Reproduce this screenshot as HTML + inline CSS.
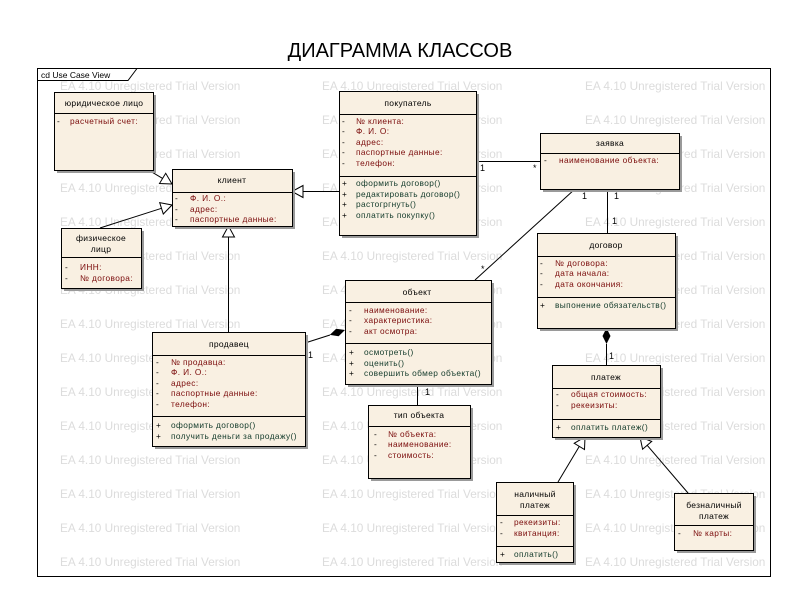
<!DOCTYPE html>
<html><head><meta charset="utf-8"><style>
html,body{margin:0;padding:0;background:#fff;}
svg{display:block;font-family:"Liberation Sans","DejaVu Sans",sans-serif;}
.wm{fill:#dcdcdc;font-size:11.8px;}
.b{fill:#f9f0e2;stroke:#000;stroke-width:1;}
.s{fill:#9a9a9a;}
.h{font-size:8.5px;fill:#000;text-anchor:middle;letter-spacing:0.3px;}
.a{font-size:8.3px;fill:#7a0a0a;letter-spacing:0.4px;}
.m{font-size:8.3px;fill:#123a2a;letter-spacing:0.4px;}
.k{font-size:8.3px;fill:#000;}
.l{stroke:#000;stroke-width:1;fill:none;}
.t{fill:#fff;stroke:#000;stroke-width:1;}
.n{font-size:9px;fill:#000;}
</style></head><body>
<svg width="800" height="600" viewBox="0 0 800 600">
<text x="400" y="57" text-anchor="middle" font-size="20" fill="#000">ДИАГРАММА КЛАССОВ</text>
<rect x="37.5" y="68.5" width="733" height="508" fill="#fff" stroke="#000"/>
<g class="wm">
<text x="60" y="90">EA 4.10 Unregistered Trial Version</text><text x="322" y="90">EA 4.10 Unregistered Trial Version</text><text x="585" y="90">EA 4.10 Unregistered Trial Version</text>
<text x="60" y="124">EA 4.10 Unregistered Trial Version</text><text x="322" y="124">EA 4.10 Unregistered Trial Version</text><text x="585" y="124">EA 4.10 Unregistered Trial Version</text>
<text x="60" y="158">EA 4.10 Unregistered Trial Version</text><text x="322" y="158">EA 4.10 Unregistered Trial Version</text><text x="585" y="158">EA 4.10 Unregistered Trial Version</text>
<text x="60" y="192">EA 4.10 Unregistered Trial Version</text><text x="322" y="192">EA 4.10 Unregistered Trial Version</text><text x="585" y="192">EA 4.10 Unregistered Trial Version</text>
<text x="60" y="226">EA 4.10 Unregistered Trial Version</text><text x="322" y="226">EA 4.10 Unregistered Trial Version</text><text x="585" y="226">EA 4.10 Unregistered Trial Version</text>
<text x="60" y="260">EA 4.10 Unregistered Trial Version</text><text x="322" y="260">EA 4.10 Unregistered Trial Version</text><text x="585" y="260">EA 4.10 Unregistered Trial Version</text>
<text x="60" y="294">EA 4.10 Unregistered Trial Version</text><text x="322" y="294">EA 4.10 Unregistered Trial Version</text><text x="585" y="294">EA 4.10 Unregistered Trial Version</text>
<text x="60" y="328">EA 4.10 Unregistered Trial Version</text><text x="322" y="328">EA 4.10 Unregistered Trial Version</text><text x="585" y="328">EA 4.10 Unregistered Trial Version</text>
<text x="60" y="362">EA 4.10 Unregistered Trial Version</text><text x="322" y="362">EA 4.10 Unregistered Trial Version</text><text x="585" y="362">EA 4.10 Unregistered Trial Version</text>
<text x="60" y="396">EA 4.10 Unregistered Trial Version</text><text x="322" y="396">EA 4.10 Unregistered Trial Version</text><text x="585" y="396">EA 4.10 Unregistered Trial Version</text>
<text x="60" y="430">EA 4.10 Unregistered Trial Version</text><text x="322" y="430">EA 4.10 Unregistered Trial Version</text><text x="585" y="430">EA 4.10 Unregistered Trial Version</text>
<text x="60" y="464">EA 4.10 Unregistered Trial Version</text><text x="322" y="464">EA 4.10 Unregistered Trial Version</text><text x="585" y="464">EA 4.10 Unregistered Trial Version</text>
<text x="60" y="498">EA 4.10 Unregistered Trial Version</text><text x="322" y="498">EA 4.10 Unregistered Trial Version</text><text x="585" y="498">EA 4.10 Unregistered Trial Version</text>
<text x="60" y="532">EA 4.10 Unregistered Trial Version</text><text x="322" y="532">EA 4.10 Unregistered Trial Version</text><text x="585" y="532">EA 4.10 Unregistered Trial Version</text>
<text x="60" y="566">EA 4.10 Unregistered Trial Version</text><text x="322" y="566">EA 4.10 Unregistered Trial Version</text><text x="585" y="566">EA 4.10 Unregistered Trial Version</text>
</g>
<path d="M37.5 80.5 H128 L137 68.5" class="l"/>
<text x="41" y="78" font-size="8.5" fill="#000">cd Use Case View</text>

<g class="l">
<line x1="115" y1="150" x2="162.6" y2="178.4"/>
<line x1="100" y1="228" x2="161.5" y2="208.3"/>
<line x1="339" y1="191.5" x2="303" y2="191.5"/>
<line x1="228.5" y1="332" x2="228.5" y2="237"/>
<line x1="476" y1="161.5" x2="540" y2="161.5"/>
<line x1="575" y1="189" x2="475" y2="280"/>
<line x1="607.5" y1="189" x2="607.5" y2="233"/>
<line x1="305" y1="343" x2="330" y2="335"/>
<line x1="417.5" y1="384" x2="417.5" y2="405"/>
<line x1="606.5" y1="344" x2="606.5" y2="365"/>
<line x1="558" y1="482" x2="579.3" y2="446.4"/>
<line x1="688" y1="493" x2="647.2" y2="445.3"/>
</g>
<polygon class="t" points="172,184 159.5,183.5 165.7,173.3"/>
<polygon class="t" points="172,205 163.3,214 159.7,202.6"/>
<polygon class="t" points="292,191.5 303,185.5 303,197.5"/>
<polygon class="t" points="228.5,226 222.5,237 234.5,237"/>
<polygon class="t" points="585,437 584.5,449.5 574.2,443.3"/>
<polygon class="t" points="640,437 651.7,441.4 642.6,449.2"/>
<polygon fill="#000" points="345,330 338.6,336.3 329.8,334.9 336.2,328.7"/>
<polygon fill="#000" points="606.5,328 610.5,336 606.5,344 602.5,336"/>
<g class="n">
<text x="480" y="171">1</text><text x="533" y="171">*</text>
<text x="481" y="272">*</text><text x="582" y="199">1</text>
<text x="614" y="199">1</text><text x="612" y="224">1</text>
<text x="308" y="358">1</text><text x="425" y="395">1</text>
<text x="609" y="359">1</text>
</g>

<rect class="s" x="57" y="95" width="99" height="78"/>
<rect class="b" x="54.5" y="92.5" width="99" height="78"/>
<line class="l" x1="54.5" y1="113.5" x2="153.5" y2="113.5"/>
<text class="h" x="104" y="106">юридическое лицо</text>
<text class="k" x="57" y="124">-</text><text class="a" x="70" y="124">расчетный счет:</text>

<rect class="s" x="175" y="172" width="120" height="57"/>
<rect class="b" x="172.5" y="169.5" width="120" height="57"/>
<line class="l" x1="172.5" y1="192.5" x2="292.5" y2="192.5"/>
<text class="h" x="232" y="183">клиент</text>
<text class="k" x="175" y="201">-</text><text class="a" x="190" y="201">Ф. И. О.:</text>
<text class="k" x="175" y="212">-</text><text class="a" x="190" y="212">адрес:</text>
<text class="k" x="175" y="222">-</text><text class="a" x="190" y="222">паспортные данные:</text>

<rect class="s" x="64" y="231" width="80" height="60"/>
<rect class="b" x="61.5" y="228.5" width="80" height="60"/>
<line class="l" x1="61.5" y1="257.5" x2="141.5" y2="257.5"/>
<text class="h" x="101" y="241">физическое</text>
<text class="h" x="101" y="252">лицр</text>
<text class="k" x="65" y="270">-</text><text class="a" x="80" y="270">ИНН:</text>
<text class="k" x="65" y="281">-</text><text class="a" x="80" y="281">№ договора:</text>

<rect class="s" x="342" y="94" width="137" height="144"/>
<rect class="b" x="339.5" y="91.5" width="137" height="144"/>
<line class="l" x1="339.5" y1="114.5" x2="476.5" y2="114.5"/>
<line class="l" x1="339.5" y1="176.5" x2="476.5" y2="176.5"/>
<text class="h" x="408" y="106">покупатель</text>
<text class="k" x="342" y="124">-</text><text class="a" x="356" y="124">№ клиента:</text>
<text class="k" x="342" y="134">-</text><text class="a" x="356" y="134">Ф. И. О:</text>
<text class="k" x="342" y="145">-</text><text class="a" x="356" y="145">адрес:</text>
<text class="k" x="342" y="155">-</text><text class="a" x="356" y="155">паспортные данные:</text>
<text class="k" x="342" y="166">-</text><text class="a" x="356" y="166">телефон:</text>
<text class="k" x="342" y="186">+</text><text class="m" x="356" y="186">оформить договор()</text>
<text class="k" x="342" y="197">+</text><text class="m" x="356" y="197">редактировать договор()</text>
<text class="k" x="342" y="207">+</text><text class="m" x="356" y="207">растогргнуть()</text>
<text class="k" x="342" y="218">+</text><text class="m" x="356" y="218">оплатить покупку()</text>

<rect class="s" x="543" y="136" width="139" height="56"/>
<rect class="b" x="540.5" y="133.5" width="139" height="56"/>
<line class="l" x1="540.5" y1="153.5" x2="679.5" y2="153.5"/>
<text class="h" x="610" y="146">заявка</text>
<text class="k" x="544" y="163">-</text><text class="a" x="559" y="163">наименование объекта:</text>

<rect class="s" x="540" y="236" width="138" height="95"/>
<rect class="b" x="537.5" y="233.5" width="138" height="95"/>
<line class="l" x1="537.5" y1="256.5" x2="675.5" y2="256.5"/>
<line class="l" x1="537.5" y1="297.5" x2="675.5" y2="297.5"/>
<text class="h" x="606" y="248">договор</text>
<text class="k" x="540" y="266">-</text><text class="a" x="555" y="266">№ договора:</text>
<text class="k" x="540" y="276">-</text><text class="a" x="555" y="276">дата начала:</text>
<text class="k" x="540" y="287">-</text><text class="a" x="555" y="287">дата окончания:</text>
<text class="k" x="540" y="308">+</text><text class="m" x="555" y="308">выпонение обязательств()</text>

<rect class="s" x="348" y="283" width="146" height="104"/>
<rect class="b" x="345.5" y="280.5" width="146" height="104"/>
<line class="l" x1="345.5" y1="302.5" x2="491.5" y2="302.5"/>
<line class="l" x1="345.5" y1="343.5" x2="491.5" y2="343.5"/>
<text class="h" x="417" y="295">объект</text>
<text class="k" x="349" y="313">-</text><text class="a" x="364" y="313">наименование:</text>
<text class="k" x="349" y="323">-</text><text class="a" x="364" y="323">характеристика:</text>
<text class="k" x="349" y="334">-</text><text class="a" x="364" y="334">акт осмотра:</text>
<text class="k" x="349" y="355">+</text><text class="m" x="364" y="355">осмотреть()</text>
<text class="k" x="349" y="366">+</text><text class="m" x="364" y="366">оценить()</text>
<text class="k" x="349" y="376">+</text><text class="m" x="364" y="376">совершить обмер объекта()</text>

<rect class="s" x="155" y="335" width="153" height="114"/>
<rect class="b" x="152.5" y="332.5" width="153" height="114"/>
<line class="l" x1="152.5" y1="355.5" x2="305.5" y2="355.5"/>
<line class="l" x1="152.5" y1="416.5" x2="305.5" y2="416.5"/>
<text class="h" x="229" y="347">продавец</text>
<text class="k" x="156" y="365">-</text><text class="a" x="171" y="365">№ продавца:</text>
<text class="k" x="156" y="375">-</text><text class="a" x="171" y="375">Ф. И. О.:</text>
<text class="k" x="156" y="386">-</text><text class="a" x="171" y="386">адрес:</text>
<text class="k" x="156" y="396">-</text><text class="a" x="171" y="396">паспортные данные:</text>
<text class="k" x="156" y="407">-</text><text class="a" x="171" y="407">телефон:</text>
<text class="k" x="156" y="428">+</text><text class="m" x="171" y="428">оформить договор()</text>
<text class="k" x="156" y="439">+</text><text class="m" x="171" y="439">получить деньги за продажу()</text>

<rect class="s" x="371" y="408" width="102" height="73"/>
<rect class="b" x="368.5" y="405.5" width="102" height="73"/>
<line class="l" x1="368.5" y1="426.5" x2="470.5" y2="426.5"/>
<text class="h" x="419" y="418">тип объекта</text>
<text class="k" x="374" y="437">-</text><text class="a" x="388" y="437">№ объекта:</text>
<text class="k" x="374" y="447">-</text><text class="a" x="388" y="447">наименование:</text>
<text class="k" x="374" y="458">-</text><text class="a" x="388" y="458">стоимость:</text>

<rect class="s" x="555" y="368" width="108" height="72"/>
<rect class="b" x="552.5" y="365.5" width="108" height="72"/>
<line class="l" x1="552.5" y1="388.5" x2="660.5" y2="388.5"/>
<line class="l" x1="552.5" y1="419.5" x2="660.5" y2="419.5"/>
<text class="h" x="606" y="380">платеж</text>
<text class="k" x="556" y="397">-</text><text class="a" x="571" y="397">общая стоимость:</text>
<text class="k" x="556" y="408">-</text><text class="a" x="571" y="408">рекеизиты:</text>
<text class="k" x="556" y="430">+</text><text class="m" x="571" y="430">оплатить платеж()</text>

<rect class="s" x="499" y="485" width="77" height="80"/>
<rect class="b" x="496.5" y="482.5" width="77" height="80"/>
<line class="l" x1="496.5" y1="515.5" x2="573.5" y2="515.5"/>
<line class="l" x1="496.5" y1="546.5" x2="573.5" y2="546.5"/>
<text class="h" x="535" y="497">наличный</text>
<text class="h" x="535" y="508">платеж</text>
<text class="k" x="500" y="525">-</text><text class="a" x="514" y="525">рекеизиты:</text>
<text class="k" x="500" y="536">-</text><text class="a" x="514" y="536">квитанция:</text>
<text class="k" x="500" y="557">+</text><text class="m" x="514" y="557">оплатить()</text>

<rect class="s" x="677" y="496" width="79" height="57"/>
<rect class="b" x="674.5" y="493.5" width="79" height="57"/>
<line class="l" x1="674.5" y1="525.5" x2="753.5" y2="525.5"/>
<text class="h" x="714" y="508">безналичный</text>
<text class="h" x="714" y="519">платеж</text>
<text class="k" x="678" y="536">-</text><text class="a" x="693" y="536">№ карты:</text>
</svg>
</body></html>
